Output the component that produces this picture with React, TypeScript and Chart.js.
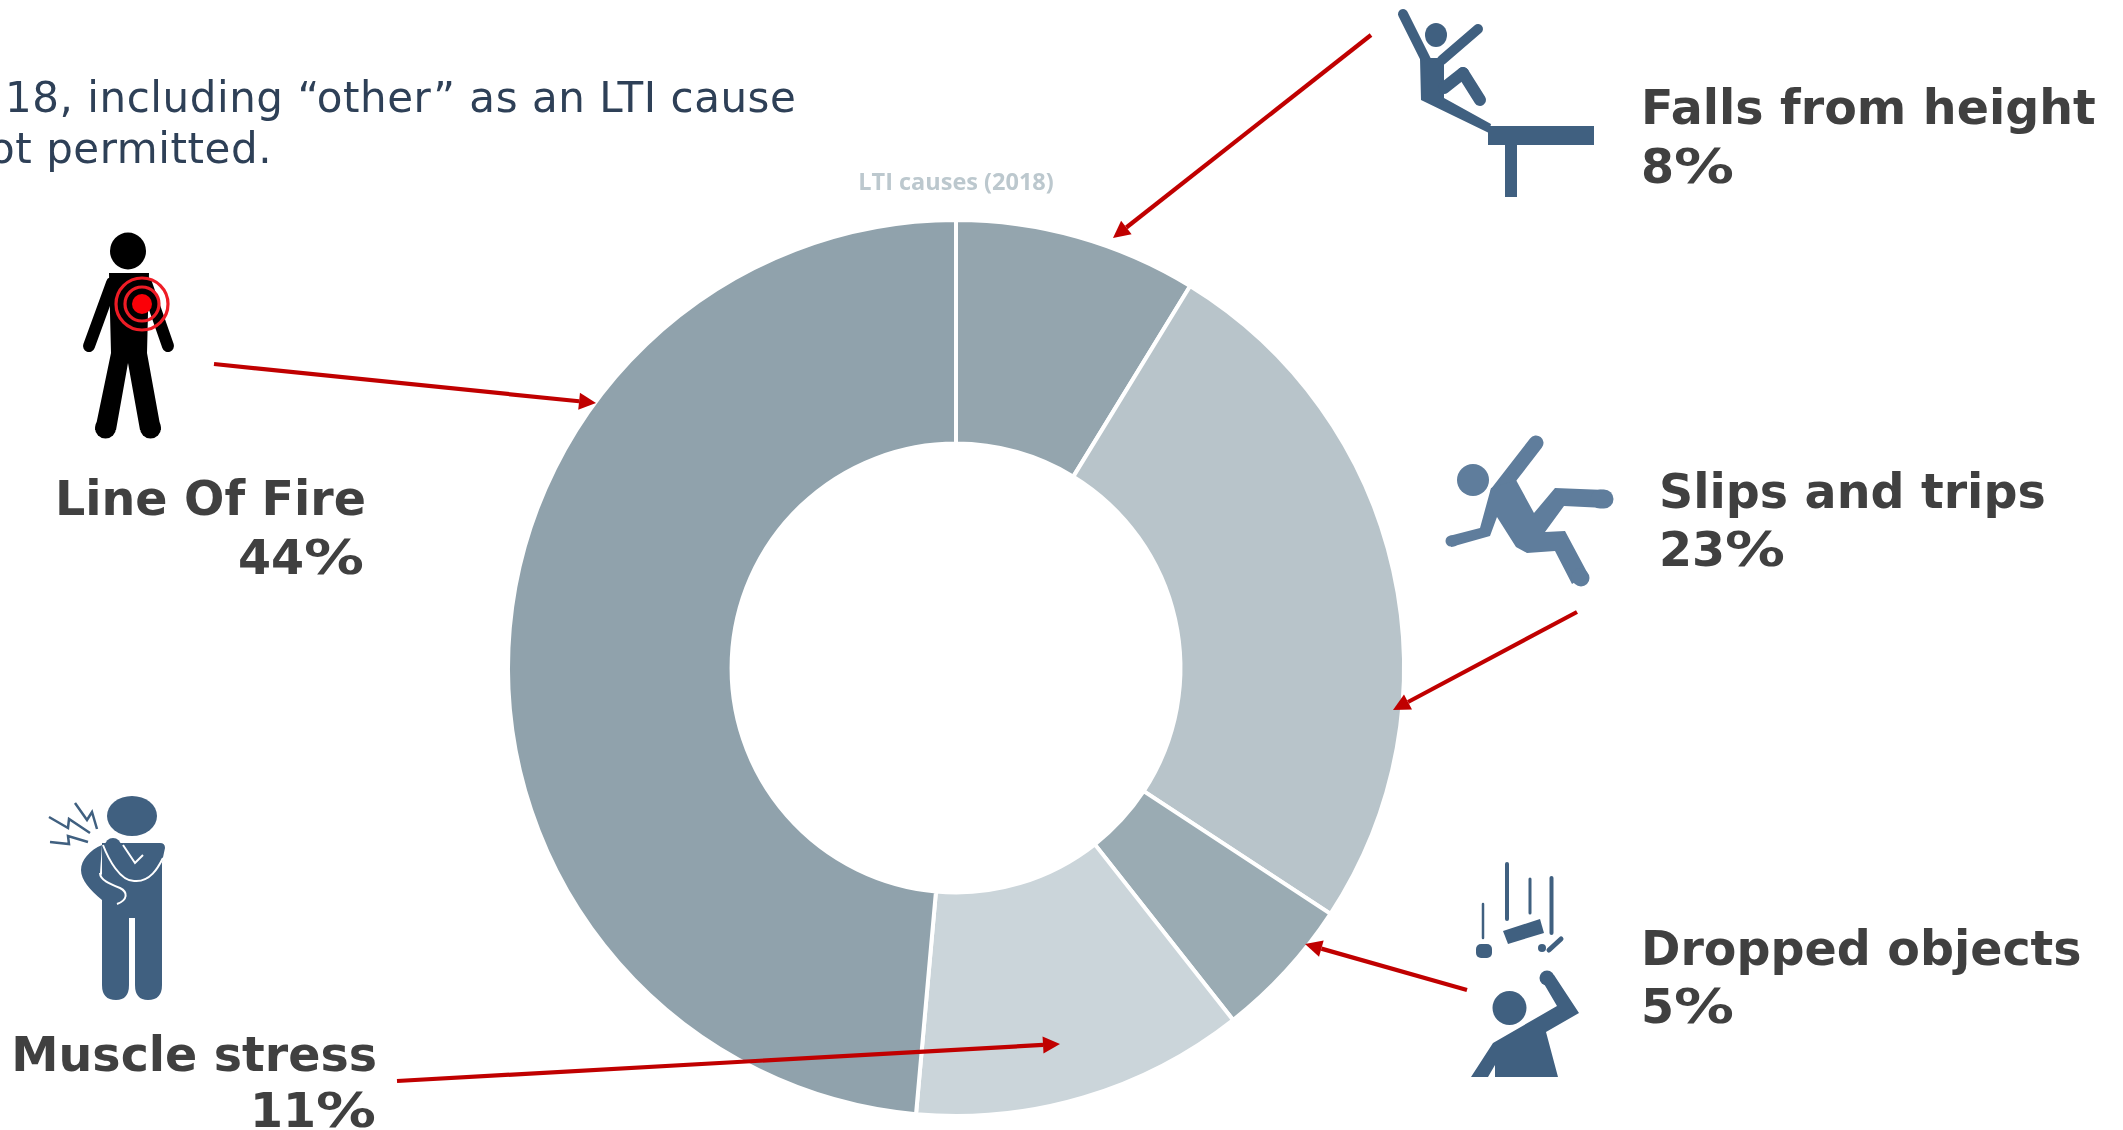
import React, { useEffect, useRef } from "react";
import { Chart, registerables } from "chart.js";

Chart.register(...registerables);

const categories = ["Falls from height", "Slips and trips", "Dropped objects", "Muscle stress", "Line Of Fire"];
const labelPercents = [8, 23, 5, 11, 44];
const sliceValues = [8, 23.3, 4.7, 11, 44.4];
const sliceColors = ["#94a5ae", "#b8c4ca", "#9aabb3", "#cbd5da", "#90a2ac"];
const chartTitle = "LTI causes (2018)";
const noteLines = ["18, including \u201Cother\u201D as an LTI cause", "ot permitted."];

const W = 2123;
const H = 1130;
const DARK = "#404040";
const BLUE = "#406080";
const BLUE2 = "#5f7d9c";
const RED = "#c00000";
const LABEL_FONT = "'DejaVu Sans', Verdana, sans-serif";
const LABEL_SIZE = 47.5;
const DIGIT_W = 0.696 * LABEL_SIZE;
const PCT_W = 60;

type LabelPos = { x: number; y1: number; y2: number; anchor: "start" | "end"; px?: number };
const labelPos: LabelPos[] = [
  { x: 1641, y1: 124, y2: 183, anchor: "start" },
  { x: 1659, y1: 508, y2: 566, anchor: "start" },
  { x: 1641, y1: 965, y2: 1023, anchor: "start" },
  { x: 377, y1: 1071, y2: 1127, anchor: "end", px: 376 },
  { x: 366, y1: 515, y2: 574, anchor: "end", px: 364 },
];

const arrows = [
  [1371, 35, 1113, 238],
  [1577, 612, 1393, 710],
  [1467, 990, 1305, 944],
  [397, 1081, 1060, 1044],
  [214, 364, 596, 403],
];

function Arrow({ c }: { c: number[] }) {
  const [x1, y1, x2, y2] = c;
  const a = Math.atan2(y2 - y1, x2 - x1);
  const len = 17;
  const hw = 8.5;
  const bx = x2 - Math.cos(a) * len;
  const by = y2 - Math.sin(a) * len;
  const nx = -Math.sin(a) * hw;
  const ny = Math.cos(a) * hw;
  return (
    <g>
      <line x1={x1} y1={y1} x2={bx} y2={by} stroke={RED} strokeWidth={4.2} />
      <polygon points={`${x2},${y2} ${bx + nx},${by + ny} ${bx - nx},${by - ny}`} fill={RED} />
    </g>
  );
}

function Icons() {
  return (
    <g>
      {/* Line of fire */}
      <g fill="#000" stroke="#000" strokeLinecap="round">
        <ellipse cx={128} cy={251} rx={18} ry={18.5} stroke="none" />
        <polygon points="109,273 149,273 147,353 161,430 140,430 128,363 116,430 95,430 111,353" stroke="none" />
        <circle cx={105.5} cy={428} r={10.5} stroke="none" />
        <circle cx={150.5} cy={428} r={10.5} stroke="none" />
        <line x1={112} y1={283} x2={89} y2={346} strokeWidth={12} />
        <line x1={146} y1={283} x2={168} y2={346} strokeWidth={12} />
      </g>
      <circle cx={142} cy={304} r={26} fill="none" stroke="#ee1c25" strokeWidth={3.2} />
      <circle cx={142} cy={304} r={17} fill="none" stroke="#ee1c25" strokeWidth={3.2} />
      <circle cx={142} cy={304} r={10} fill="#fb0007" />

      {/* Falls from height */}
      <g fill={BLUE} stroke={BLUE} strokeLinecap="round">
        <ellipse cx={1436} cy={35} rx={11} ry={12} stroke="none" />
        <line x1={1403} y1={14} x2={1426} y2={60} strokeWidth={10} />
        <line x1={1478} y1={29} x2={1442} y2={60} strokeWidth={10} />
        <polygon points="1420,58 1444,58 1444,98 1491,124 1489,133 1421,100" stroke="none" />
        <line x1={1444} y1={88} x2={1463} y2={73} strokeWidth={12} />
        <line x1={1463} y1={73} x2={1480} y2={100} strokeWidth={12} />
        <rect x={1488} y={126} width={106} height={19} stroke="none" />
        <rect x={1505} y={145} width={12} height={52} stroke="none" />
      </g>

      {/* Slips and trips */}
      <g fill={BLUE2} stroke={BLUE2} strokeLinecap="round">
        <ellipse cx={1473} cy={480} rx={16} ry={16} stroke="none" />
        <line x1={1536} y1={443} x2={1498} y2={492} strokeWidth={15} />
        <polygon
          points="1491,488 1516,480 1534,513 1555,488 1605,490 1605,508 1564,506 1545,532 1565,531 1588,574 1572,584 1555,551 1527,553 1516,547 1497,517 1490,536 1451,547 1449,536 1480,528"
          stroke="none"
        />
        <line x1={1600} y1={499} x2={1604} y2={499} strokeWidth={19} />
        <line x1={1580} y1={577} x2={1581} y2={578} strokeWidth={17} />
        <line x1={1451} y1={541} x2={1453} y2={541} strokeWidth={11} />
      </g>

      {/* Dropped objects */}
      <g fill={BLUE} stroke={BLUE} strokeLinecap="round">
        <line x1={1507} y1={864} x2={1507} y2={919} strokeWidth={4} />
        <line x1={1483} y1={904} x2={1483} y2={938} strokeWidth={2.5} />
        <line x1={1530} y1={879} x2={1530} y2={913} strokeWidth={3} />
        <line x1={1551.5} y1={878} x2={1551.5} y2={933} strokeWidth={4} />
        <polygon points="1503,931 1540,919 1544,933 1508,944" stroke="none" />
        <rect x={1476} y={944} width={16} height={14} rx={5} stroke="none" />
        <line x1={1549} y1={950} x2={1561} y2={939} strokeWidth={5} />
        <circle cx={1542} cy={948} r={4} stroke="none" />
        <ellipse cx={1509.5} cy={1008} rx={17} ry={17} stroke="none" />
        <circle cx={1547} cy={978} r={7.5} stroke="none" />
        <polygon
          points="1540,977 1554,975 1579,1013 1546,1032 1558,1077 1495,1077 1495,1065 1488,1077 1471,1077 1493,1043 1557,1006"
          stroke="none"
        />
      </g>

      {/* Muscle stress */}
      <g fill={BLUE}>
        <ellipse cx={132} cy={816} rx={25} ry={20} />
        <path d="M102,843 L160,843 Q165,843 165,848 L162,862 L162,985 Q162,1000 148,1000 Q135,1000 135,985 L135,918 L129,918 L129,985 Q129,1000 116,1000 Q102,1000 102,985 Z" />
        <path d="M102,845 C90,850 81,860 81,870 C81,880 90,890 102,900 L117,904 C125,904 128,898 127,893 C124,888 108,882 100,873 Z" />
        <circle cx={113} cy={846} r={8} />
      </g>
      <path d="M103,845 C108,858 120,882 135,881 C150,882 158,868 163,858" fill="none" stroke="#fff" strokeWidth={2} />
      <path d="M123,845 L135,863 L143,855" fill="none" stroke="#fff" strokeWidth={2} />
      <path d="M100,873 C100,880 110,884 120,888 C128,892 128,900 117,904" fill="none" stroke="#fff" strokeWidth={2} />
      <g fill="none" stroke={BLUE} strokeWidth={2.5}>
        <polyline points="49,817 68,828 69,819 90,833" />
        <polyline points="75,803 87,820 92,812 97,829" />
        <polyline points="50,842 69,844 68,836 88,842" />
      </g>
    </g>
  );
}

export default function App() {
  const ref = useRef<HTMLCanvasElement>(null);

  useEffect(() => {
    if (!ref.current) return;
    const chart = new Chart(ref.current, {
      type: "doughnut",
      data: {
        labels: categories,
        datasets: [
          {
            data: sliceValues,
            backgroundColor: sliceColors,
            borderColor: "#ffffff",
            borderWidth: 4,
          },
        ],
      },
      options: {
        responsive: false,
        animation: false,
        cutout: "50.1%",
        layout: { padding: { left: 506, right: 717, top: 169, bottom: 12 } },
        plugins: {
          legend: { display: false },
          tooltip: { enabled: false },
          title: {
            display: true,
            text: chartTitle,
            color: "#bcc8ce",
            font: { family: "'Open Sans', sans-serif", size: 23.5, weight: "bold" },
            padding: { top: 0, bottom: 20.8 },
          },
        },
      },
    });
    return () => chart.destroy();
  }, []);

  return (
    <div style={{ position: "absolute", left: 0, top: 0, width: W, height: H, overflow: "hidden", background: "#fff" }}>
      <canvas ref={ref} width={W} height={H} style={{ position: "absolute", left: 0, top: 0, display: "block" }} />
      <svg width={W} height={H} style={{ position: "absolute", left: 0, top: 0 }}>
        <text x={5} y={112} fontFamily={LABEL_FONT} fontSize={42} letterSpacing={0.55} fill="#2e4057">{noteLines[0]}</text>
        <text x={-11} y={163} fontFamily={LABEL_FONT} fontSize={42} letterSpacing={0.55} fill="#2e4057">{noteLines[1]}</text>
        <Icons />
        {arrows.map((c, i) => <Arrow key={i} c={c} />)}
        {categories.map((name, i) => {
          const p = labelPos[i];
          const digits = String(labelPercents[i]);
          const pctWidth = digits.length * DIGIT_W + PCT_W;
          const pctX = p.anchor === "end" ? (p.px ?? p.x) - pctWidth : p.x;
          return (
            <g key={name} fontFamily={LABEL_FONT} fontWeight="bold" fontSize={LABEL_SIZE} fill={DARK}>
              <text x={p.x} y={p.y1} textAnchor={p.anchor}>{name}</text>
              <text x={pctX} y={p.y2}>
                {digits}
                <tspan textLength={PCT_W} lengthAdjust="spacingAndGlyphs">%</tspan>
              </text>
            </g>
          );
        })}
      </svg>
    </div>
  );
}
